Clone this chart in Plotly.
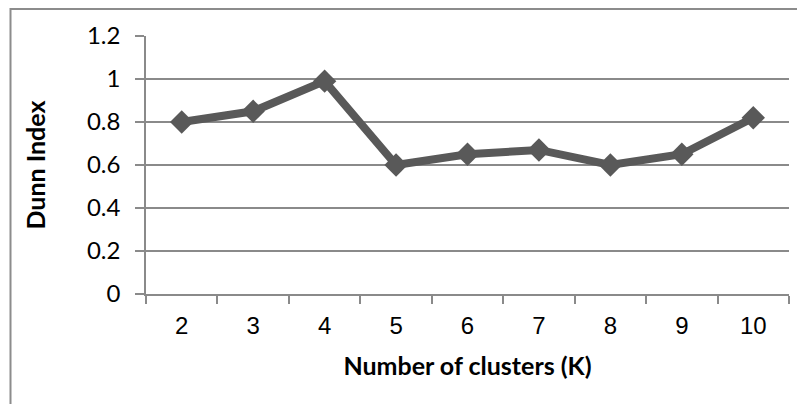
import plotly.graph_objects as go

clusters = ["2", "3", "4", "5", "6", "7", "8", "9", "10"]
dunn_index = [0.80, 0.85, 0.99, 0.60, 0.65, 0.67, 0.60, 0.65, 0.82]
y_ticks = [0, 0.2, 0.4, 0.6, 0.8, 1.0, 1.2]
y_tick_text = ["0", "0.2", "0.4", "0.6", "0.8", "1", "1.2"]

# page has an 8px body margin, so the figure is offset by (8, 8);
# keep the figure inside the window so nothing overflows
OFF = 8
W, H = 805 - 2 * OFF, 412 - 2 * OFF
L, T = 146 - OFF, 36 - OFF
pw, ph = 643, 258
R, B = W - L - pw, H - T - ph

def px_x(x):
    return (x - OFF - L) / pw

def px_y(y):
    return (T + ph - (y - OFF)) / ph

fig = go.Figure()
fig.add_trace(go.Scatter(
    x=clusters, y=dunn_index, mode="lines+markers",
    line=dict(color="#595959", width=8),
    marker=dict(symbol="diamond", size=18, color="#595959"),
    showlegend=False,
))

border_path = (f"M {px_x(10.5)} {px_y(430)} L {px_x(10.5)} {px_y(9)} "
               f"L {px_x(830)} {px_y(9)}")

fig.update_layout(
    width=W, height=H,
    margin=dict(l=L, r=R, t=T, b=B),
    paper_bgcolor="white", plot_bgcolor="white",
    shapes=[dict(type="path", xref="paper", yref="paper", path=border_path,
                 line=dict(color="#8c8c8c", width=2))],
    xaxis=dict(
        type="category", range=[-0.5, len(clusters) - 0.5],
        tickson="boundaries", ticks="outside", ticklen=8,
        tickcolor="#8a8a8a", tickwidth=1.5,
        showline=True, linecolor="#8a8a8a", linewidth=1.5,
        showgrid=False, zeroline=False, ticklabelstandoff=9,
        tickfont=dict(family="Liberation Sans, Arial", size=24, color="black"),
        title=dict(text="<b>Number of clusters (K)</b>", standoff=20,
                   font=dict(family="Lato, Calibri", size=25, color="black")),
    ),
    yaxis=dict(
        range=[0, 1.2], tickvals=y_ticks, ticktext=y_tick_text,
        ticks="outside", ticklen=9, tickcolor="#8a8a8a", tickwidth=1.5,
        showline=True, linecolor="#8a8a8a", linewidth=1.5,
        showgrid=True, gridcolor="#8a8a8a", gridwidth=1.5,
        zeroline=False, ticklabelstandoff=10,
        tickfont=dict(family="Lato, Calibri", size=24, color="black"),
        title=dict(text="<b>Dunn Index</b>", standoff=34,
                   font=dict(family="Lato, Calibri", size=25, color="black")),
    ),
)

fig.write_html("out.html")
